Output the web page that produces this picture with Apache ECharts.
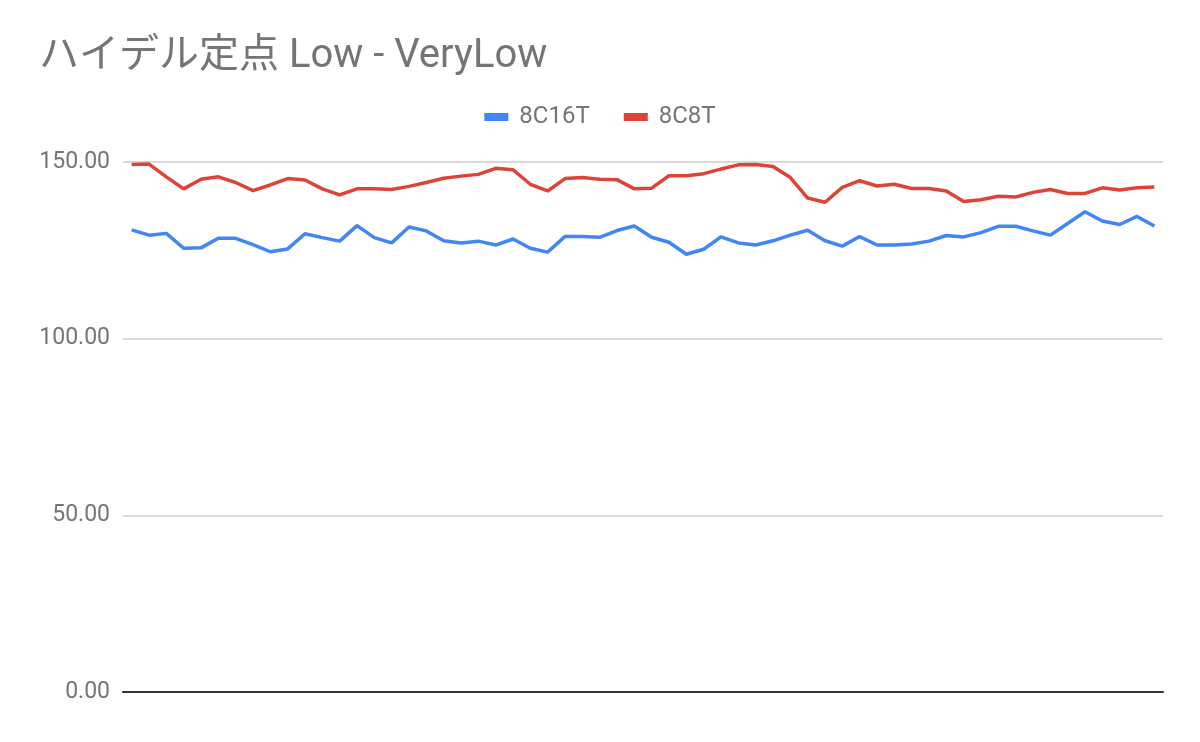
<!DOCTYPE html>
<html>
<head>
<meta charset="utf-8">
<script src="https://cdn.jsdelivr.net/npm/echarts@6/dist/echarts.min.js"></script>
<style>
html,body{margin:0;padding:0;background:#fff;}
#chart{width:1200px;height:742px;}
</style>
</head>
<body>
<div id="chart"></div>
<script>
const titleText = 'ハイデル定点 Low - VeryLow';
const seriesNames = ['8C16T', '8C8T'];
const categories = Array.from({length: 60}, (_, i) => String(i + 1));
const yTicks = [0, 50, 100, 150];

const s8C16T = [
  130.8, 129.3, 129.8, 125.6, 125.7, 128.4, 128.4, 126.6, 124.6, 125.4,
  129.7, 128.6, 127.6, 132.0, 128.6, 127.1, 131.6, 130.5, 127.7, 127.1,
  127.6, 126.5, 128.2, 125.6, 124.5, 128.9, 128.9, 128.7, 130.6, 131.9,
  128.7, 127.3, 123.9, 125.3, 128.8, 127.1, 126.5, 127.7, 129.3, 130.7,
  127.7, 126.2, 128.9, 126.5, 126.5, 126.8, 127.6, 129.2, 128.8, 130.0,
  131.8, 131.8, 130.5, 129.3, 132.6, 135.9, 133.3, 132.3, 134.6, 131.9
];
const s8C8T = [
  149.3, 149.4, 145.8, 142.4, 145.1, 145.8, 144.2, 141.9, 143.5, 145.3,
  144.9, 142.4, 140.7, 142.4, 142.4, 142.2, 143.1, 144.2, 145.4, 146.0,
  146.5, 148.2, 147.8, 143.7, 141.8, 145.3, 145.6, 145.1, 145.0, 142.4,
  142.6, 146.1, 146.1, 146.7, 148.0, 149.2, 149.3, 148.7, 145.6, 139.8,
  138.6, 142.8, 144.7, 143.2, 143.7, 142.5, 142.5, 141.8, 138.8, 139.3,
  140.3, 140.1, 141.4, 142.2, 141.1, 141.1, 142.7, 142.1, 142.7, 142.9
];

const chart = echarts.init(document.getElementById('chart'), null, {renderer: 'canvas'});
const font = 'Roboto, "Noto Sans CJK JP", sans-serif';
chart.setOption({
  backgroundColor: '#ffffff',
  animation: false,
  title: {
    text: titleText,
    left: 34,
    top: 32,
    textStyle: {fontFamily: font, fontSize: 40, fontWeight: 'normal', color: '#757575'}
  },
  legend: {
    data: seriesNames,
    top: 100,
    left: 'center',
    itemWidth: 24,
    itemHeight: 8,
    itemGap: 34,
    icon: 'rect',
    textStyle: {fontFamily: font, fontSize: 24, color: '#757575', padding: [0, 0, 0, 6]}
  },
  grid: {left: 123, right: 37, top: 162, bottom: 50, containLabel: false},
  xAxis: {
    type: 'category',
    data: categories,
    boundaryGap: true,
    axisLine: {show: true, lineStyle: {color: '#333333', width: 2}},
    axisTick: {show: false},
    axisLabel: {show: false},
    splitLine: {show: false}
  },
  yAxis: {
    type: 'value',
    min: yTicks[0],
    max: yTicks[yTicks.length - 1],
    interval: 50,
    axisLine: {show: false},
    axisTick: {show: false},
    axisLabel: {
      fontFamily: font, fontSize: 23, color: '#757575', margin: 13,
      formatter: v => v.toFixed(2)
    },
    splitLine: {show: true, lineStyle: {color: '#cccccc', width: 1.5}}
  },
  series: [
    {
      name: seriesNames[0], type: 'line', data: s8C16T,
      symbol: 'none', color: '#4285F4',
      lineStyle: {width: 3.5, color: '#4285F4'}
    },
    {
      name: seriesNames[1], type: 'line', data: s8C8T,
      symbol: 'none', color: '#DB4437',
      lineStyle: {width: 3.5, color: '#DB4437'}
    }
  ]
});
</script>
</body>
</html>
